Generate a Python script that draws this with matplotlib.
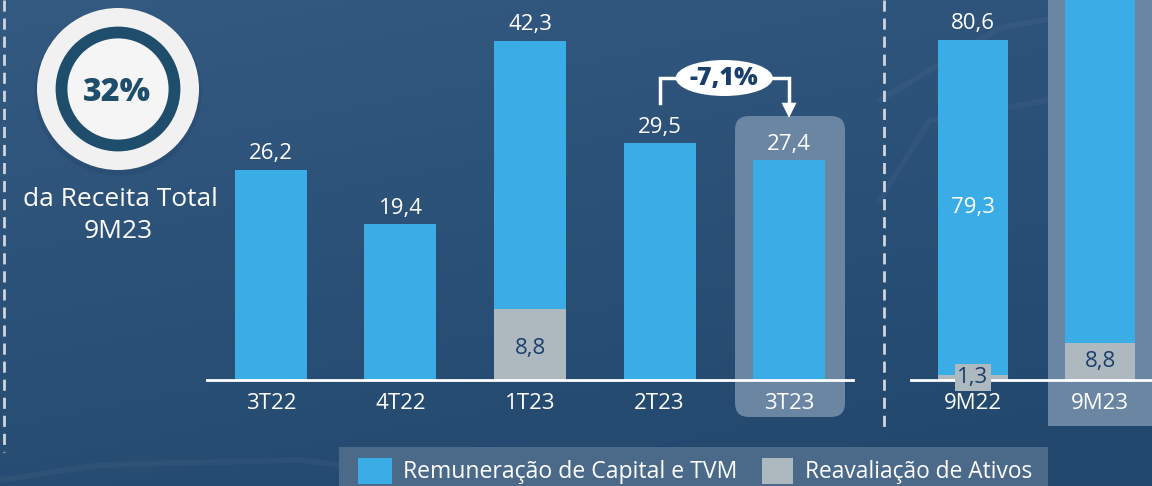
import matplotlib
matplotlib.use('Agg')
import matplotlib.pyplot as plt
import numpy as np
from matplotlib.patches import Circle, FancyBboxPatch, Ellipse, Rectangle, Polygon

# ---------------- data ----------------
quarters = ['3T22', '4T22', '1T23', '2T23', '3T23']
q_capital = [26.2, 19.4, 33.5, 29.5, 27.4]
q_reaval = [0.0, 0.0, 8.8, 0.0, 0.0]
q_total = [26.2, 19.4, 42.3, 29.5, 27.4]

periods = ['9M22', '9M23']
p_capital = [79.3, 90.4]
p_reaval = [1.3, 8.8]
p_total = [80.6, 99.2]

variation_label = '-7,1%'
share_label = '32%'
share_lines = ['da Receita Total', '9M23']
legend_labels = ['Remuneração de Capital e TVM', 'Reavaliação de Ativos']

# ---------------- style ----------------
FONT = 'Open Sans'
plt.rcParams['font.family'] = [FONT, 'DejaVu Sans']
C_BLUE = '#3aade6'
C_GREY = '#adb8bf'
C_NAVY = '#1b3f6b'
C_HL = '#6a86a2'
W, H = 1152, 486

def fmt(v):
    return f'{v:.1f}'.replace('.', ',')

fig = plt.figure(figsize=(W / 100, H / 100), dpi=100)

# background axes in pixel coordinates
bg = fig.add_axes([0, 0, 1, 1], zorder=0)
bg.set_xlim(0, W)
bg.set_ylim(H, 0)
bg.axis('off')
yy, xx = np.mgrid[0:1:200j, 0:1:200j]
top = np.array([0x35, 0x5a, 0x81]) / 255
bot = np.array([0x23, 0x48, 0x6e]) / 255
t = np.clip(0.75 * yy + 0.35 * xx, 0, 1)[..., None]
grad = top * (1 - t) + bot * t
bg.imshow(grad, extent=[0, W, H, 0], aspect='auto', zorder=0)

# faint decorative lines
bg.plot([0, 100, 300, 500], [480, 465, 460, 486], color='white', alpha=0.035, lw=4, zorder=1)
bg.plot([880, 930, 1050, 1152], [200, 120, 100, 140], color='white', alpha=0.03, lw=4, zorder=1)
bg.plot([880, 1000, 1152], [100, 28, 0], color='white', alpha=0.03, lw=4, zorder=1)

# dashed separators
bg.plot([4, 4], [0, 452], color='#d0d6dc', lw=2, ls=(0, (4, 2.5)), zorder=2)
bg.plot([884, 884], [0, 428], color='#d0d6dc', lw=2, ls=(0, (4, 2.5)), zorder=2)

# highlight boxes
bg.add_patch(FancyBboxPatch((735 + 14, 116 + 14), 110 - 28, 301 - 28,
                            boxstyle='round,pad=14', fc=C_HL, ec='none', zorder=2))
bg.add_patch(FancyBboxPatch((1048 + 14, -40), 118 - 28, 466 - 14,
                            boxstyle='round,pad=14', fc=C_HL, ec='none', zorder=2))
bg.add_patch(Rectangle((1048, -5), 40, 431, fc=C_HL, ec='none', zorder=2))

# share circle
bg.add_patch(Circle((118, 92), 84, fc='#1e3f63', ec='none', alpha=0.25, zorder=2))
bg.add_patch(Circle((118, 89), 81, fc='#f1f1f1', ec='none', zorder=3))
bg.add_patch(Circle((118, 89), 56.5, fc='none', ec='#1f4d6c', lw=8.5, zorder=4))
bg.add_patch(Circle((118, 89), 51, fc='#f5f5f5', ec='none', zorder=3.5))
bg.text(117, 93, share_label, ha='center', va='center', fontsize=23, fontweight='black',
        color='#1f4d6c', zorder=5)
bg.text(120, 199, share_lines[0], ha='center', va='center', fontsize=19, color='white', zorder=5)
bg.text(118, 231, share_lines[1], ha='center', va='center', fontsize=19, color='white', zorder=5)

# legend box
bg.add_patch(Rectangle((339, 447), 709, 50, fc='#4b6a8a', ec='none', zorder=2))
bg.add_patch(Rectangle((358, 458), 34, 26, fc=C_BLUE, ec='none', zorder=3))
bg.add_patch(Rectangle((762, 458), 31, 26, fc=C_GREY, ec='none', zorder=3))
bg.text(403, 472, legend_labels[0], ha='left', va='center', fontsize=16.6, color='white', zorder=3)
bg.text(805, 472, legend_labels[1], ha='left', va='center', fontsize=16.4, color='white', zorder=3)

# ---------------- main chart ----------------
ax = fig.add_axes([207 / W, (H - 380) / H, (853 - 207) / W, 380 / H], zorder=3)
ax.patch.set_alpha(0)
x = np.arange(len(quarters))
bw = 0.556
ax.bar(x, q_reaval, bw, color=C_GREY, zorder=2)
ax.bar(x, q_capital, bw, bottom=q_reaval, color=C_BLUE, zorder=2)
ax.set_xlim(-0.494, 4.494)
ax.set_ylim(0, 380 / 8.02)
for s in ['top', 'left', 'right']:
    ax.spines[s].set_visible(False)
ax.spines['bottom'].set_color('white')
ax.spines['bottom'].set_linewidth(2)
ax.spines['bottom'].set_zorder(3)
ax.set_yticks([])
ax.set_xticks(x)
ax.set_xticklabels(quarters, fontsize=16, color='white')
ax.tick_params(axis='x', length=0, pad=9)
for i in x:
    ax.annotate(fmt(q_total[i]), (i, q_total[i]), xytext=(0, 4), textcoords='offset points',
                ha='center', va='bottom', fontsize=16, color='white')
    if q_reaval[i] > 0:
        ax.text(i, q_reaval[i] / 2 - 0.5, fmt(q_reaval[i]), ha='center', va='center',
                fontsize=16, color=C_NAVY, zorder=3)

# variation bracket between 2T23 and 3T23
y_top = (380 - 78) / 8.02
y_start = q_total[3] + 5.0
y_tip = q_total[4] + 5.3
head = 15 / 8.02
ax.plot([3, 3, 4, 4], [y_start, y_top, y_top, y_tip + head], color='white', lw=2.5,
        solid_joinstyle='miter', zorder=4, clip_on=False)
hw = 7.5 / 129.5
ax.add_patch(Polygon([[4 - hw, y_tip + head], [4 + hw, y_tip + head], [4, y_tip]],
                     closed=True, fc='white', ec='none', zorder=4))
ax.add_patch(Ellipse((3.5, y_top), 97 / 129.5, 36 / 8.02, fc='white', ec='none', zorder=5))
ax.text(3.5, y_top - 0.1, variation_label, ha='center', va='center', fontsize=18,
        fontweight='heavy', color=C_NAVY, zorder=6)

# ---------------- cumulative chart ----------------
ax2 = fig.add_axes([911 / W, (H - 380) / H, (W - 911) / W, 380 / H], zorder=3)
ax2.patch.set_alpha(0)
x2 = np.arange(len(periods))
bw2 = 70 / 127
ax2.bar(x2, p_reaval, bw2, color=C_GREY, zorder=2)
ax2.bar(x2, p_capital, bw2, bottom=p_reaval, color=C_BLUE, zorder=2)
ax2.set_xlim(-0.488, 1.409)
ax2.set_ylim(0, 380 / 4.222)
for s in ['top', 'left', 'right']:
    ax2.spines[s].set_visible(False)
ax2.spines['bottom'].set_color('white')
ax2.spines['bottom'].set_linewidth(2)
ax2.spines['bottom'].set_zorder(3)
ax2.set_yticks([])
ax2.set_xticks(x2)
ax2.set_xticklabels(periods, fontsize=16, color='white')
ax2.tick_params(axis='x', length=0, pad=9)
for i in x2:
    ax2.annotate(fmt(p_total[i]), (i, p_total[i]), xytext=(0, 4), textcoords='offset points',
                 ha='center', va='bottom', fontsize=16, color='white', annotation_clip=True)
# 9M22 detail labels
ax2.text(0, p_reaval[0] + p_capital[0] / 2, fmt(p_capital[0]), ha='center', va='center',
         fontsize=16, color='white', zorder=3)
ax2.text(0, 0.6, fmt(p_reaval[0]), ha='center', va='center', fontsize=16, color=C_NAVY,
         zorder=4, bbox=dict(boxstyle='square,pad=0.12', fc=C_GREY, ec='none'))
ax2.text(1, p_reaval[1] / 2, fmt(p_reaval[1]), ha='center', va='center', fontsize=16,
         color=C_NAVY, zorder=3)

fig.savefig('out.png', dpi=100)
